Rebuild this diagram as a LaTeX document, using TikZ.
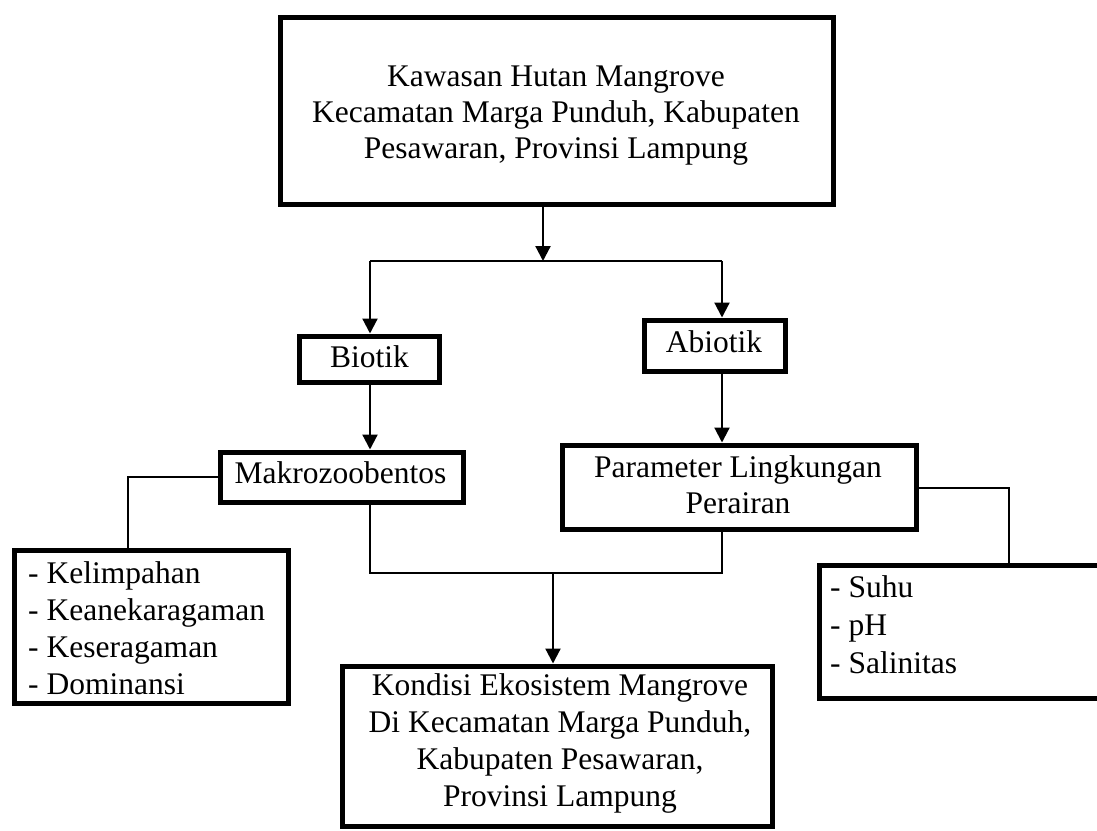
\documentclass[tikz,border=0pt]{standalone}
\usepackage{fontspec}
\setmainfont{Liberation Serif}
\usetikzlibrary{arrows.meta}
\begin{document}
\begin{tikzpicture}[x=1pt,y=-1pt]
\tikzset{
  frame/.style={draw, line width=5pt, inner sep=0pt},
  txt/.style={inner sep=0pt, align=center, font=\fontsize{31.5}{37}\selectfont},
  txtl/.style={inner sep=0pt, align=left, font=\fontsize{31.5}{37}\selectfont},
  conn/.style={line width=2.2pt},
  arr/.style={line width=2.2pt, -{Triangle[width=15pt,length=15pt]}},
}
\useasboundingbox (0,0) rectangle (1097,830);
% boxes
\node[frame, minimum width=553pt, minimum height=187pt] (top) at (556.5,110.5) {};
\node[txt, font=\fontsize{31.5}{36}\selectfont] (topt) at (556,115.6) {Kawasan Hutan Mangrove\\Kecamatan Marga Punduh, Kabupaten\\Pesawaran, Provinsi Lampung};
\node[frame, minimum width=140pt, minimum height=46pt] (bio) at (369,359) {};
\node[txt] (biot) at (369.5,356.5) {Biotik};
\node[frame, minimum width=141pt, minimum height=51pt] (abio) at (714.5,345.5) {};
\node[txt] (abiot) at (714,342) {Abiotik};
\node[frame, minimum width=243pt, minimum height=50pt] (makro) at (341.5,477) {};
\node[txt] (makrot) at (340.5,473) {Makrozoobentos};
\node[frame, minimum width=354pt, minimum height=84pt] (param) at (739,487) {};
\node[txt, font=\fontsize{31.5}{36}\selectfont] (paramt) at (738,485) {Parameter Lingkungan\\Perairan};
\node[frame, minimum width=274pt, minimum height=153pt] (llist) at (151,626.5) {};
\node[txtl, anchor=west] (llistt) at (28,628) {- Kelimpahan\\- Keanekaragaman\\- Keseragaman\\- Dominansi};
\node[frame, minimum width=283pt, minimum height=133pt] (rlist) at (960.5,631.5) {};
\node[txtl, anchor=west, font=\fontsize{31.5}{38}\selectfont] (rlistt) at (830,625) {- Suhu\\- pH\\- Salinitas};
\node[frame, minimum width=430pt, minimum height=160pt] (bottom) at (557,746) {};
\node[txt] (bottomt) at (560,743) {Kondisi Ekosistem Mangrove\\Di Kecamatan Marga Punduh,\\Kabupaten Pesawaran,\\Provinsi Lampung};
% connector points
\coordinate (split) at (543,261);
\coordinate (bl) at (370,261);
\coordinate (ab) at (722,261);
\coordinate (lk) at (128,477);
\coordinate (j1) at (370,573);
\coordinate (j2) at (722,573);
\coordinate (jm) at (553,573);
\coordinate (rk) at (1009,488);
% connectors
\draw[arr] (top.south -| split) -- (split);
\draw[conn] (bl) -- (ab);
\draw[arr] (bl) -- (bio.north -| bl);
\draw[arr] (ab) -- (abio.north -| ab);
\draw[arr] (bio.south -| bl) -- (makro.north -| bl);
\draw[arr] (abio.south -| ab) -- (param.north -| ab);
\draw[conn] (makro.west) -- (lk) -- (llist.north -| lk);
\draw[conn] (makro.south -| j1) -- (j1) -- (j2) -- (param.south -| j2);
\draw[arr] (jm) -- (bottom.north -| jm);
\draw[conn] (param.east |- rk) -- (rk) -- (rlist.north -| rk);
\end{tikzpicture}
\end{document}
